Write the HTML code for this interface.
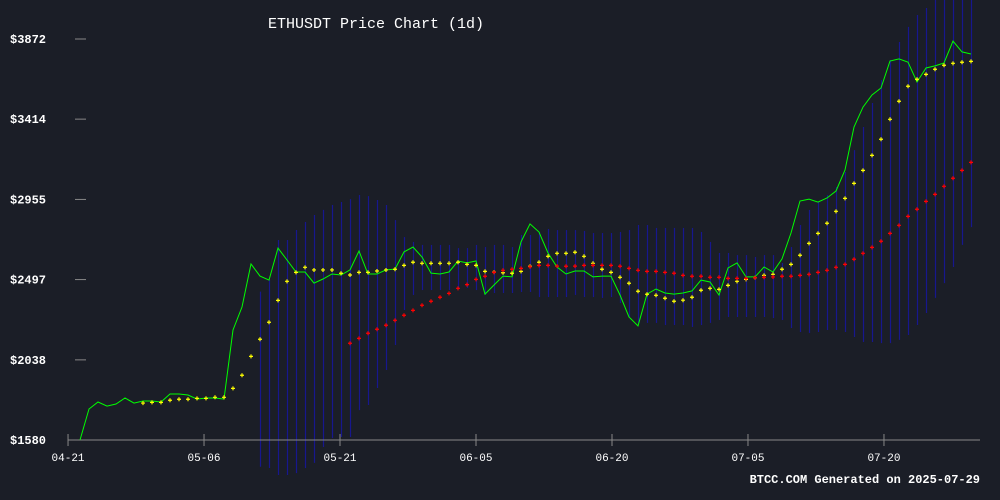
<!DOCTYPE html>
<html><head><meta charset="utf-8">
<style>
html,body{margin:0;padding:0;background:#1b1e27;}
svg{display:block;font-family:"Liberation Mono",monospace;}
</style></head>
<body>
<svg id="chart" width="1000" height="500" viewBox="0 0 1000 500" xmlns="http://www.w3.org/2000/svg">
<rect x="0" y="0" width="1000" height="500" fill="#1b1e27"/>
<text x="376" y="28" fill="#ffffff" font-size="15" text-anchor="middle">ETHUSDT Price Chart (1d)</text>
<g id="bands"></g>
<g id="axes"></g>
<path id="closeLine" fill="none" stroke="#00ff00" stroke-width="1"/>
<g id="fastMa"></g>
<g id="slowMa"></g>
<text x="980" y="483" fill="#ffffff" font-size="12" font-weight="bold" text-anchor="end">BTCC.COM Generated on 2025-07-29</text>
</svg>
<script>
const closes = [1580,1757,1797,1774,1786,1820,1791,1803,1803,1797,1843,1843,1837,1814,1820,1820,1814,2209,2340,2586,
2517,2494,2677,2609,2540,2540,2477,2500,2529,2523,2552,2660,2529,2529,2552,2557,2655,2683,2626,2534,
2529,2540,2603,2592,2603,2414,2466,2517,2512,2712,2815,2769,2649,2569,2529,2546,2546,2512,2517,2517,
2409,2283,2232,2414,2443,2420,2414,2420,2432,2494,2483,2409,2563,2592,2512,2512,2569,2540,2615,2763,
2946,2957,2940,2963,3003,3123,3369,3483,3552,3592,3746,3758,3740,3626,3706,3718,3735,3860,3798,3786];
const fastStart = 7;
const fastMa = [1791,1795,1795,1807,1813,1813,1818,1818,1824,1824,1875,1950,2058,2156,2253,2378,2487,2538,2567,2552,
2552,2552,2533,2523,2538,2538,2546,2552,2556,2578,2596,2590,2590,2590,2590,2596,2584,2578,2544,2540,
2536,2533,2544,2573,2596,2630,2647,2647,2653,2630,2590,2556,2538,2510,2476,2430,2413,2407,2390,2373,
2379,2396,2436,2447,2441,2464,2487,2498,2508,2521,2527,2556,2584,2636,2704,2761,2819,2887,2961,3047,
3121,3207,3299,3413,3516,3602,3642,3670,3699,3722,3733,3739,3744];
const slowStart = 30;
const slowMa = [2133,2161,2190,2213,2236,2264,2293,2321,2350,2373,2396,2418,2447,2468,2498,2516,2538,2550,2556,2561,
2570,2578,2578,2574,2573,2574,2578,2578,2578,2578,2573,2561,2550,2544,2544,2538,2533,2521,2516,2516,
2510,2510,2504,2504,2504,2508,2510,2512,2516,2516,2521,2527,2538,2550,2567,2584,2613,2647,2681,2716,
2761,2807,2858,2899,2944,2984,3030,3076,3121,3167];
const bandStart = 20;
const bandTop = [2428,2494,2723,2723,2780,2826,2866,2895,2923,2940,2957,2980,2974,2952,2923,2837,2740,2712,2695,2695,
2695,2695,2677,2677,2695,2683,2695,2695,2683,2752,2752,2769,2786,2780,2780,2780,2775,2763,2763,2763,
2769,2780,2809,2809,2792,2792,2792,2792,2792,2769,2712,2649,2649,2637,2637,2626,2637,2637,2592,2683,
2809,2895,2940,2980,3026,3112,3237,3369,3506,3638,3752,3855,3941,4009,4049,4123,4180,4209,4237,4266];
const bandBottom = [1427,1420,1380,1380,1391,1420,1449,1540,1591,1597,1597,1751,1780,1877,1980,2123,2323,2409,2437,2437,
2437,2437,2449,2449,2437,2409,2420,2420,2420,2426,2426,2397,2397,2397,2397,2409,2397,2397,2392,2397,
2363,2283,2249,2249,2249,2237,2237,2237,2226,2237,2249,2266,2283,2283,2283,2283,2283,2277,2266,2220,
2197,2192,2197,2209,2209,2197,2169,2140,2140,2134,2134,2152,2180,2237,2306,2392,2477,2569,2695,2797];
const yTicks = [1580,2038,2497,2955,3414,3872];
const xTickLabels = ["04-21","05-06","05-21","06-05","06-20","07-05","07-20"];
const xTickIdx = [-1.33,13.78,28.89,44,59.11,74.22,89.33];

const NS = "http://www.w3.org/2000/svg";
const X0 = 80, DX = 9.0;
function xScale(i){ return X0 + DX*i; }
function yScale(p){ return 440 - (p - 1580) * (401/2292); }
function mk(tag, attrs, parent){
  const e = document.createElementNS(NS, tag);
  for (const k in attrs) e.setAttribute(k, attrs[k]);
  parent.appendChild(e); return e;
}
const axes = document.getElementById('axes');
const xAxis = mk('line',{x1:68,y1:440,x2:980,y2:440,stroke:'#888',"stroke-width":1},axes);


yTicks.forEach(v=>{
  const y = yScale(v);
  const t = mk('line',{x1:75,y1:y,x2:86,y2:y,stroke:'#888',"stroke-width":1},axes);
  
  
  const l = mk('text',{x:10,y:y+4,fill:'#fff',"font-size":12,"font-weight":"bold"},axes);
  
  
  l.textContent = '$' + v;
});
xTickLabels.forEach((lab,k)=>{
  const x = xScale(xTickIdx[k]);
  const t = mk('line',{x1:x,y1:434,x2:x,y2:446,stroke:'#888',"stroke-width":1},axes);
  
  
  const l = mk('text',{x:x,y:461,fill:'#fff',"font-size":11,"text-anchor":"middle"},axes);
  
  
  l.textContent = lab;
});
const bands = document.getElementById('bands');
bandTop.forEach((top,k)=>{
  const x = Math.round(xScale(bandStart + k)) + 0.5;
  const b = mk('line',{x1:x,y1:yScale(top),x2:x,y2:yScale(bandBottom[k]),stroke:'#17178e',"stroke-width":1.2},bands);
  
  
});
document.getElementById('closeLine').setAttribute('d',
  closes.map((p,i)=>(i?'L':'M')+xScale(i).toFixed(1)+' '+yScale(p).toFixed(1)).join(' '));
function crosses(arr, start, color, gid, name){
  const g = document.getElementById(gid);
  arr.forEach((p,k)=>{
    const x = xScale(start+k), y = yScale(p);
    const c = mk('path',{d:`M${x-2} ${y}H${x+2}M${x} ${y-2}V${y+2}`,stroke:color,"stroke-width":1.2},g);
    
    
  });
}
crosses(fastMa, fastStart, '#ffff00', 'fastMa', 'fast-ma-point');
crosses(slowMa, slowStart, '#ff0000', 'slowMa', 'slow-ma-point');
</script>
</body></html>
